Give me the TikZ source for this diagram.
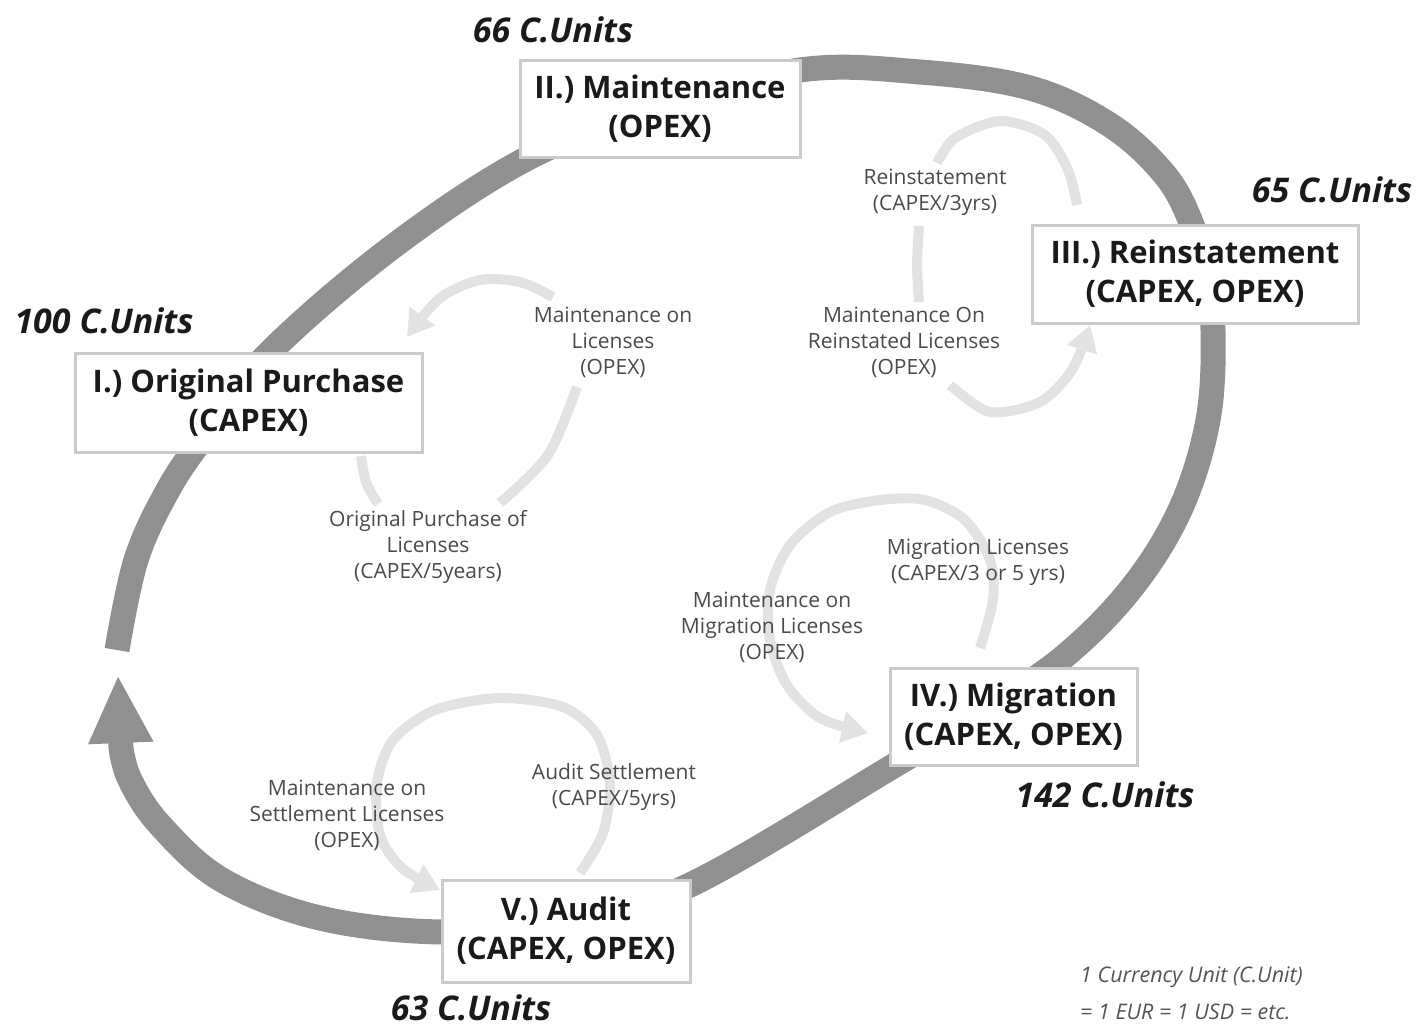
\documentclass[tikz,border=0pt]{standalone}
\usepackage{fontspec}
\setmainfont{Open Sans}
\usetikzlibrary{arrows.meta}
\definecolor{ringgray}{HTML}{909090}
\definecolor{loopgray}{HTML}{E2E2E2}
\definecolor{boxline}{HTML}{CBCBCB}
\definecolor{lbltext}{HTML}{4A4A4A}
\definecolor{darktext}{HTML}{1A1A1A}
\definecolor{notetext}{HTML}{555555}
\pgfdeclarelayer{bg}
\pgfsetlayers{bg,main}
\begin{document}
\begin{tikzpicture}[x=1pt,y=-1pt,
 stagebox/.style={draw=boxline, line width=3pt, fill=white, align=center, inner sep=0pt, text=darktext, font=\fontsize{31}{39}\selectfont\bfseries},
 lbl/.style={align=center, inner sep=0pt, text=lbltext, font=\fontsize{21}{26}\selectfont},
 units/.style={inner sep=0pt, text=darktext, font=\fontsize{34}{40}\selectfont\bfseries\itshape},
 notes/.style={align=left, inner sep=0pt, text=notetext, font=\fontsize{21.5}{37}\selectfont\itshape},
 ringline/.style={draw=ringgray, line width=25pt},
 loopline/.style={draw=loopgray, line width=10pt},
 looptip/.style={-{Triangle[width=30pt,length=26pt]}}
]
\useasboundingbox (0,0) rectangle (1417,1028);

% stage boxes
\node[stagebox, minimum width=347pt, minimum height=99pt] (b1) at (248.5,402.5) {I.) Original Purchase\\(CAPEX)};
\node[stagebox, minimum width=280pt, minimum height=97pt] (b2) at (660,108.5) {II.) Maintenance\\(OPEX)};
\node[stagebox, minimum width=326pt, minimum height=98pt] (b3) at (1195,274) {III.) Reinstatement\\(CAPEX, OPEX)};
\node[stagebox, minimum width=247pt, minimum height=97pt] (b4) at (1013.5,716.5) {IV.) Migration\\(CAPEX, OPEX)};
\node[stagebox, minimum width=248pt, minimum height=102pt] (b5) at (566,931) {V.) Audit\\(CAPEX, OPEX)};

% unit labels
\node[units] (u1) at (104,321) {100 C.Units};
\node[units] (u2) at (553,30) {66 C.Units};
\node[units] (u3) at (1332,190) {65 C.Units};
\node[units] (u4) at (1105,795) {142 C.Units};
\node[units] (u5) at (471,1008) {63 C.Units};

% loop labels
\node[lbl] (lA) at (428,547) {Original Purchase of\\Licenses\\(CAPEX/5years)};
\node[lbl] (lB) at (613,342) {Maintenance on\\Licenses\\(OPEX)};
\node[lbl] (lC) at (935,192) {Reinstatement\\(CAPEX/3yrs)};
\node[lbl] (lD) at (904,342) {Maintenance On\\Reinstated Licenses\\(OPEX)};
\node[lbl] (lE) at (978,562) {Migration Licenses\\(CAPEX/3 or 5 yrs)};
\node[lbl] (lF) at (772,627) {Maintenance on\\Migration Licenses\\(OPEX)};
\node[lbl] (lG) at (614,787) {Audit Settlement\\(CAPEX/5yrs)};
\node[lbl] (lH) at (347,815) {Maintenance on\\Settlement Licenses\\(OPEX)};

% note
\node[notes, anchor=west] (note) at (1080,993) {1 Currency Unit (C.Unit)\\= 1 EUR = 1 USD = etc.};

% coordinates
\coordinate (ringstart) at (117,650);
\coordinate (ringtip) at (118,675);

\begin{pgfonlayer}{bg}
% main cycle
\draw[ringline, -{Triangle[width=60pt,length=68pt]}] plot[smooth, tension=0.6] coordinates {
 (ringstart) (136,560) (168,490) (205,435) (270,352) (395,245) (530,157)
 (660,108) (800,70) (920,72) (1030,88) (1110,125) (1165,175) (1192,225) (1205,275) (1213,330)
 (1208,420) (1180,510) (1130,590) (1060,660) (975,716) (895,765) (690,885)
 (566,922) (442,932) (320,918) (222,880) (160,825) (130,780) (121,748)} -- (ringtip);

% loop I
\coordinate (a1s) at (361,456);
\draw[loopline] plot[smooth] coordinates {(a1s) (366,482) (378,504)};
\draw[loopline] plot[smooth] coordinates {(500,503) (548,455) (577,387)};
\draw[loopline, looptip] plot[smooth] coordinates {(553,297) (520,282) (480,280) (440,298) (407,337)};

% loop III
\draw[loopline] plot[smooth] coordinates {(1077,205) (1068,170) (1045,135) (1000,121) (955,138) (937,163)};
\draw[loopline] plot[smooth] coordinates {(919,226) (917,265) (919,302)};
\draw[loopline, looptip] plot[smooth] coordinates {(950,385) (990,412) (1040,402) (1072,370) (1090,325)};

% loop IV
\draw[loopline, looptip] plot[smooth] coordinates {(980,648) (993,600) (990,560) (965,520) (925,500)
 (880,500) (830,512) (790,545) (770,590) (770,640) (787,685) (820,718) (868,733)};

% loop V
\draw[loopline, looptip] plot[smooth] coordinates {(580,873) (603,833) (610,783) (597,735) (563,707)
 (500,698) (435,710) (393,740) (377,783) (380,835) (402,868) (440,890)};
\end{pgfonlayer}
\end{tikzpicture}
\end{document}
